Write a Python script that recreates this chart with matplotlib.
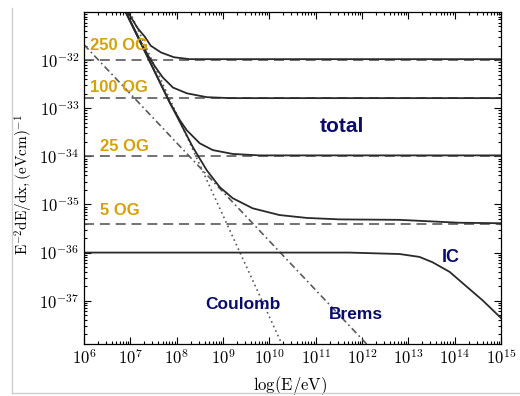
import numpy as np
import matplotlib
matplotlib.use("Agg")
import matplotlib.pyplot as plt
from matplotlib.ticker import LogLocator, NullFormatter, FuncFormatter
from matplotlib.lines import Line2D

# --- Data (log10 values) ---
# synchrotron levels (dashed), one per field strength
field_labels = ["250 OG", "100 OG", "25 OG", "5 OG"]
sync_levels = [1.0e-32, 1.6e-33, 1.0e-34, 4.0e-36]

# total loss curves (solid)
tot250_logE = [6.95, 7.16, 7.31, 7.44, 7.66, 7.94, 8.28, 15.0]
tot250_logY = [-31.01, -31.34, -31.51, -31.70, -31.84, -31.94, -31.98, -31.98]

tot100_logE = [6.905, 7.21, 7.38, 7.53, 7.70, 7.92, 8.22, 8.65, 9.15, 15.0]
tot100_logY = [-31.01, -31.59, -31.90, -32.13, -32.36, -32.57, -32.69, -32.77, -32.79, -32.79]

tot25_logE = [6.905, 7.42, 7.85, 8.07, 8.22, 8.50, 8.78, 9.21, 9.79, 15.0]
tot25_logY = [-31.01, -32.03, -32.88, -33.25, -33.46, -33.73, -33.87, -33.95, -33.98, -33.98]

tot5_logE = [6.905, 7.42, 7.85, 8.35, 8.65, 8.93, 9.21, 9.64, 10.22, 10.81, 11.52,
             12.81, 13.46, 14.10, 15.0]
tot5_logY = [-31.01, -32.03, -32.88, -33.81, -34.29, -34.64, -34.87, -35.08, -35.22,
             -35.28, -35.31, -35.32, -35.35, -35.38, -35.39]

# inverse Compton
ic_logE = [6.0, 11.73, 12.81, 13.24, 13.52, 13.89, 14.25, 14.60, 15.0]
ic_logY = [-36.0, -36.0, -36.03, -36.09, -36.20, -36.40, -36.70, -36.99, -37.36]

# Coulomb (dotted) and bremsstrahlung (dash-dot)
coul_logE = [6.99, 10.27]
coul_logY = [-31.0, -37.90]
brems_logE = [6.0, 12.10]
brems_logY = [-31.68, -37.90]

# --- Style ---
plt.rcParams["mathtext.fontset"] = "cm"
GOLD = "#D4A20A"
NAVY = "#0B0B6E"
LINE = "#2a2a2a"
GRAY = "#5a5a5a"

fig = plt.figure(figsize=(5.2, 3.96), dpi=100)
ax = fig.add_axes([84 / 520, 1 - 344 / 396, 417 / 520, 332 / 396])

def p(le, ly):
    return 10 ** np.array(le), 10 ** np.array(ly)

# dashed synchrotron levels
for lvl in sync_levels:
    ax.plot([1e6, 1e15], [lvl, lvl], color=GRAY, lw=1.2, ls=(0, (6, 3.5)))

ax.plot(*p(coul_logE, coul_logY), color=GRAY, lw=1.2, ls=(0, (1, 2)))
ax.plot(*p(brems_logE, brems_logY), color=GRAY, lw=1.2, ls=(0, (4, 2, 1, 2)))

for le, ly in [(tot250_logE, tot250_logY), (tot100_logE, tot100_logY),
               (tot25_logE, tot25_logY), (tot5_logE, tot5_logY), (ic_logE, ic_logY)]:
    ax.plot(*p(le, ly), color=LINE, lw=1.3)

ax.set_xscale("log")
ax.set_yscale("log")
ax.set_xlim(1e6, 1e15)
ax.set_ylim(10 ** -37.90, 10 ** -31.0)

pow_fmt = FuncFormatter(lambda v, pos: r"$\mathrm{10^{%d}}$" % round(np.log10(v)))

ax.xaxis.set_major_locator(LogLocator(base=10, numticks=20))
ax.xaxis.set_major_formatter(pow_fmt)
ax.xaxis.set_minor_locator(LogLocator(base=10, subs=np.arange(2, 10), numticks=100))
ax.xaxis.set_minor_formatter(NullFormatter())
ax.set_yticks([1e-32, 1e-33, 1e-34, 1e-35, 1e-36, 1e-37])
ax.yaxis.set_major_formatter(pow_fmt)
ax.yaxis.set_minor_locator(LogLocator(base=10, subs=np.arange(2, 10), numticks=100))
ax.yaxis.set_minor_formatter(NullFormatter())

ax.tick_params(which="both", direction="in", top=True, right=True, labelsize=12,
               width=0.8)
ax.tick_params(which="major", length=5)
ax.tick_params(which="minor", length=2.5)
for s in ax.spines.values():
    s.set_linewidth(0.9)

ax.set_xlabel(r"$\mathrm{log(E/eV)}$", fontsize=12)
ax.xaxis.set_label_coords(0.494, -0.09)
ax.set_ylabel(r"$\mathrm{E^{-2}dE/dx,(eVcm)^{-1}}$", fontsize=11)
ax.yaxis.set_label_coords(-0.118, 0.479)

# field-strength labels
label_pos = [(0.014, 0.898), (0.014, 0.773), (0.038, 0.596), (0.038, 0.401)]
for txt, (xf, yf) in zip(field_labels, label_pos):
    ax.text(xf, yf, txt, transform=ax.transAxes, color=GOLD, fontsize=12,
            fontweight="bold", ha="left", va="center", family="Liberation Sans")

for txt, xf, yf, fs in [("total", 0.619, 0.654, 15), ("IC", 0.880, 0.261, 13),
                        ("Brems", 0.652, 0.089, 12.5), ("Coulomb", 0.382, 0.119, 12.5)]:
    ax.text(xf, yf, txt, transform=ax.transAxes, color=NAVY, fontsize=fs,
            fontweight="bold", ha="center", va="center", family="Liberation Sans")

# light slide frame
fig.add_artist(Line2D([12 / 520, 12 / 520], [1 - 393 / 396, 1 - 8 / 396],
                      color="#cfcfcf", lw=1))
fig.add_artist(Line2D([12 / 520, 1], [1 - 393 / 396, 1 - 393 / 396],
                      color="#cfcfcf", lw=1))

fig.savefig("out.png", dpi=100)
